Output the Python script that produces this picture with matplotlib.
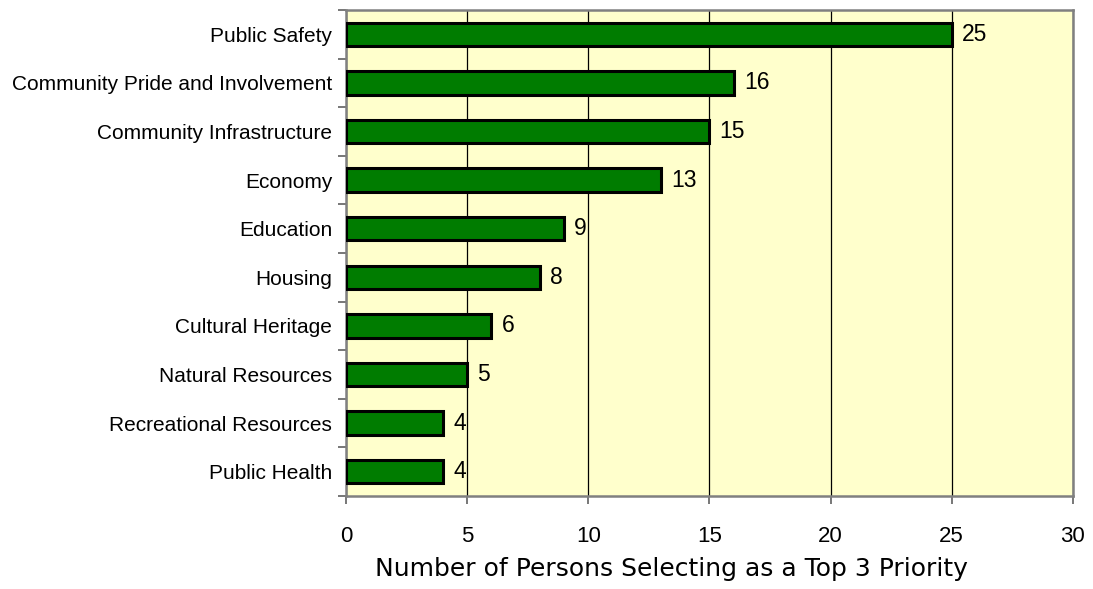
import matplotlib
matplotlib.use("Agg")
import matplotlib.pyplot as plt

categories = ["Public Safety", "Community Pride and Involvement", "Community Infrastructure",
              "Economy", "Education", "Housing", "Cultural Heritage", "Natural Resources",
              "Recreational Resources", "Public Health"]
values = [25, 16, 15, 13, 9, 8, 6, 5, 4, 4]
xticks = [0, 5, 10, 15, 20, 25, 30]

fig = plt.figure(figsize=(10.93, 5.89), dpi=100)
ax = fig.add_axes([0.3166, 0.158, 0.665, 0.825])
ax.set_facecolor("#FFFFCC")

ypos = list(range(len(categories)))[::-1]
ax.barh(ypos, values, height=0.48, color="#007C00", edgecolor="black", linewidth=2.2, zorder=3)
for y, v in zip(ypos, values):
    ax.text(v + 0.42, y, str(v), va="center", ha="left", fontsize=16.5,
            family="Liberation Sans", zorder=4)

ax.set_xlim(0, 30)
ax.set_ylim(-0.5, len(categories) - 0.5)
ax.set_xticks(xticks)
ax.set_yticks(ypos)
ax.set_yticklabels(categories, fontsize=15, family="Liberation Sans")
ax.set_xticklabels([str(t) for t in xticks], fontsize=16, family="Liberation Sans")
ax.set_yticks([y + 0.5 for y in ypos] + [-0.5], minor=True)
ax.tick_params(axis="y", which="major", length=0, pad=10)
ax.tick_params(axis="y", which="minor", length=6, width=1.2, color="#606060")
ax.tick_params(axis="x", length=6, width=1.2, color="#606060", pad=16)
ax.grid(axis="x", color="black", linewidth=0.9, zorder=1)
for s in ax.spines.values():
    s.set_color("#808080")
    s.set_linewidth(1.8)
ax.set_xlabel("Number of Persons Selecting as a Top 3 Priority", fontsize=18,
              family="DejaVu Sans", labelpad=8)
ax.xaxis.set_label_coords(0.447, -0.125)

fig.savefig("out.png", dpi=100)
